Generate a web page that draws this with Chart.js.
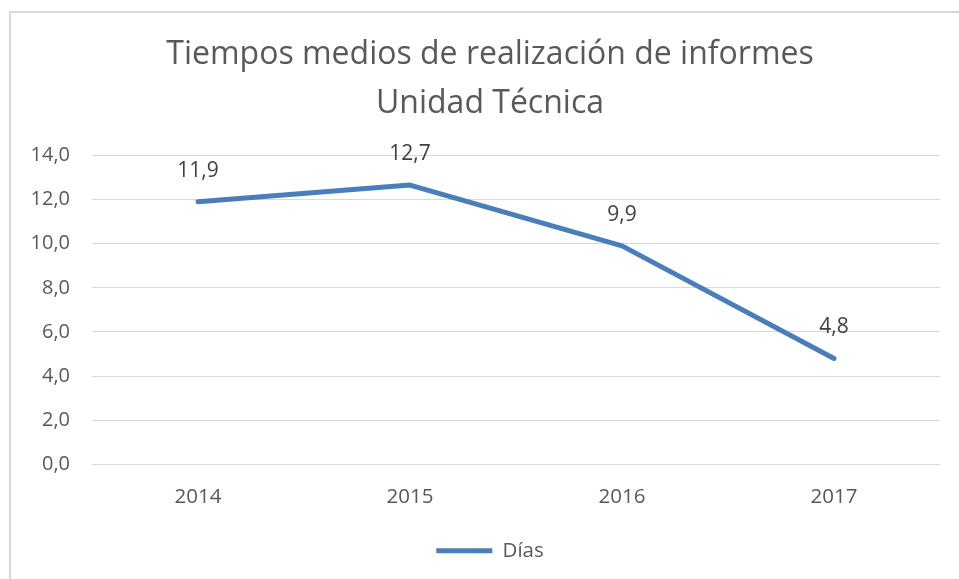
<!DOCTYPE html>
<html>
<head>
<meta charset="utf-8">
<script src="https://cdn.jsdelivr.net/npm/chart.js@4"></script>
<style>
  html, body { margin: 0; padding: 0; background: #fff; overflow: hidden; }
  #wrap { position: relative; width: 959px; height: 579px; }
  #frame { position: absolute; left: 9px; top: 11px; width: 1000px; height: 620px; border: 2px solid #d9d9d9; box-sizing: border-box; }
  #chart { position: absolute; left: 0; top: 0; }
</style>
</head>
<body>
<div id="wrap">
  <div id="frame"></div>
  <canvas id="chart" width="959" height="579"></canvas>
</div>
<script>
// === Data ===
const years = ['2014', '2015', '2016', '2017'];
const dias = [11.9, 12.65, 9.9, 4.8];
const diasLabels = ['11,9', '12,7', '9,9', '4,8'];
const titleLines = ['Tiempos medios de realización de informes', 'Unidad Técnica'];

const FONT = "'Open Sans', sans-serif";
const GREY = '#595959';

// === Data labels plugin (value above each point) ===
const pointLabels = {
  id: 'pointLabels',
  afterDatasetsDraw(chart) {
    const ctx = chart.ctx;
    const meta = chart.getDatasetMeta(0);
    ctx.save();
    ctx.font = `21px ${FONT}`;
    ctx.fillStyle = '#404040';
    ctx.textAlign = 'center';
    ctx.textBaseline = 'middle';
    meta.data.forEach((pt, i) => {
      ctx.fillText(diasLabels[i], pt.x, pt.y - 31);
    });
    ctx.restore();
  }
};

// the original frame is wider than the picture: centre title + legend a bit to the right
const shiftBlocks = {
  id: 'shiftBlocks',
  afterLayout(chart) {
    [chart.titleBlock, chart.legend].forEach(b => {
      if (!b) return;
      b.left = 40;
      b.right = 940;
      b.width = 900;
    });
  }
};

new Chart(document.getElementById('chart'), {
  type: 'line',
  data: {
    labels: years,
    datasets: [{
      label: 'Días',
      data: dias,
      borderColor: '#4a7ebb',
      backgroundColor: '#4a7ebb',
      borderWidth: 5,
      borderCapStyle: 'round',
      borderJoinStyle: 'round',
      pointRadius: 0,
      tension: 0
    }]
  },
  options: {
    responsive: false,
    animation: false,
    layout: { padding: { left: 0, right: 19, top: 0, bottom: 8 } },
    scales: {
      x: {
        offset: true,
        grid: { display: false, drawTicks: false },
        border: { display: false },
        ticks: { color: GREY, font: { family: FONT, size: 20.5 }, padding: 20, maxRotation: 0 },
        afterFit(scale) { scale.height = 66; }
      },
      y: {
        min: 0,
        max: 14,
        grid: { color: '#d9d9d9', lineWidth: 1, drawTicks: false },
        border: { display: false },
        ticks: {
          stepSize: 2,
          color: GREY,
          font: { family: FONT, size: 20 },
          padding: 22,
          callback: v => v.toFixed(1).replace('.', ',')
        },
        afterFit(scale) { scale.width = 92; }
      }
    },
    plugins: {
      title: {
        display: true,
        text: titleLines,
        color: GREY,
        font: { family: FONT, size: 32, weight: 'normal', lineHeight: 1.52 },
        padding: { top: 31, bottom: 27 }
      },
      legend: {
        position: 'bottom',
        labels: {
          color: GREY,
          font: { family: FONT, size: 20.5 },
          usePointStyle: true,
          pointStyle: 'line',
          pointStyleWidth: 56,
          boxHeight: 5,
          padding: 10
        }
      },
      tooltip: { enabled: false }
    }
  },
  plugins: [pointLabels, shiftBlocks]
});
</script>
</body>
</html>
